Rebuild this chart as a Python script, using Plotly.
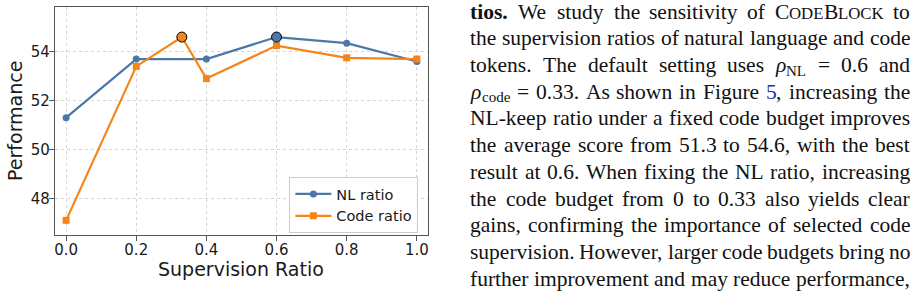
import plotly.graph_objects as go

# ---------------- data ----------------
x_nl = [0.0, 0.2, 0.4, 0.6, 0.8, 1.0]
y_nl = [51.3, 53.7, 53.7, 54.6, 54.35, 53.6]
x_code = [0.0, 0.2, 0.33, 0.4, 0.6, 0.8, 1.0]
y_code = [47.1, 53.4, 54.6, 52.9, 54.25, 53.75, 53.7]
best_nl_x, best_nl_y = [0.6], [54.6]
best_code_x, best_code_y = [0.33], [54.6]
x_tickvals = [0.0, 0.2, 0.4, 0.6, 0.8, 1.0]
x_ticktext = ["0.0", "0.2", "0.4", "0.6", "0.8", "1.0"]
y_tickvals = [48, 50, 52, 54]
y_ticktext = ["48", "50", "52", "54"]
series_names = ["NL ratio", "Code ratio"]
x_title = "Supervision Ratio"
y_title = "Performance"

# paragraph text (tokens; a token may be a list of (style, text) pieces)
para_lines = [
    [[("b", "tios.")], "We", "study", "the", "sensitivity", "of",
     [("r", "C"), ("sc", "ODE"), ("r", "B"), ("sc", "LOCK")], "to"],
    ["the", "supervision", "ratios", "of", "natural", "language", "and", "code"],
    ["tokens.", "The", "default", "setting", "uses", [("mi", "ρ"), ("sub", "NL")],
     "=", "0.6", "and"],
    [[("mi", "ρ"), ("sub", "code")], "=", "0.33.", "As", "shown", "in", "Figure",
     [("link", "5"), ("r", ",")], "increasing", "the"],
    ["NL-keep", "ratio", "under", "a", "fixed", "code", "budget", "improves"],
    ["the", "average", "score", "from", "51.3", "to", "54.6,", "with", "the", "best"],
    ["result", "at", "0.6.", "When", "fixing", "the", "NL", "ratio,", "increasing"],
    ["the", "code", "budget", "from", "0", "to", "0.33", "also", "yields", "clear"],
    ["gains,", "confirming", "the", "importance", "of", "selected", "code"],
    ["supervision.", "However,", "larger", "code", "budgets", "bring", "no"],
    ["further", "improvement", "and", "may", "reduce", "performance,"],
]

# ---------------- style ----------------
W, H = 915, 308
BLUE = "#4c78a8"
ORANGE = "#f58518"
SPINE = "#555555"
GRID = "#d4d4d4"

PLOT_L, PLOT_R, PLOT_T, PLOT_B = 54, 428, 7, 235

fig = go.Figure()
fig.add_trace(go.Scatter(x=x_nl, y=y_nl, mode="lines+markers", name=series_names[0],
                         line=dict(color=BLUE, width=2.2),
                         marker=dict(symbol="circle", size=7, color=BLUE)))
fig.add_trace(go.Scatter(x=x_code, y=y_code, mode="lines+markers", name=series_names[1],
                         line=dict(color=ORANGE, width=2.2),
                         marker=dict(symbol="square", size=7, color=ORANGE)))
fig.add_trace(go.Scatter(x=best_nl_x, y=best_nl_y, mode="markers", showlegend=False,
                         marker=dict(symbol="circle", size=10, color=BLUE,
                                     line=dict(color="black", width=1))))
fig.add_trace(go.Scatter(x=best_code_x, y=best_code_y, mode="markers", showlegend=False,
                         marker=dict(symbol="circle", size=10, color=ORANGE,
                                     line=dict(color="black", width=1))))

axis_common = dict(showline=True, linecolor=SPINE, linewidth=1.25, mirror=True,
                   ticks="outside", ticklen=5, tickwidth=1, tickcolor=SPINE,
                   showgrid=True, gridcolor=GRID, gridwidth=0.8, griddash="dot",
                   zeroline=False, tickfont=dict(family="DejaVu Sans", size=15, color="#1a1a1a"))

fig.update_layout(
    width=W, height=H, margin=dict(l=0, r=0, t=0, b=0),
    paper_bgcolor="white", plot_bgcolor="white",
    font=dict(family="DejaVu Sans", color="#1a1a1a"),
    xaxis=dict(domain=[PLOT_L / W, PLOT_R / W], range=[-0.032, 1.032],
               tickvals=x_tickvals, ticktext=x_ticktext, ticklabelstandoff=-4,
               **axis_common),
    yaxis=dict(domain=[1 - PLOT_B / H, 1 - PLOT_T / H], range=[46.5, 55.83],
               tickvals=y_tickvals, ticktext=y_ticktext, ticklabelstandoff=-4,
               **axis_common),
    legend=dict(x=289 / W, y=1 - 177 / H, xanchor="left", yanchor="top",
                bgcolor="rgba(255,255,255,0.85)", bordercolor="#cccccc", borderwidth=1,
                font=dict(family="DejaVu Sans", size=14.5, color="#1a1a1a"),
                itemwidth=36, tracegroupgap=0),
    showlegend=True,
)

annotations = []
annotations.append(dict(text=x_title, x=((PLOT_L + PLOT_R) / 2) / W, y=1 - 269 / H,
                        xref="paper", yref="paper", showarrow=False,
                        xanchor="center", yanchor="middle",
                        font=dict(family="DejaVu Sans", size=19, color="#1a1a1a")))
annotations.append(dict(text=y_title, x=14 / W, y=1 - ((PLOT_T + PLOT_B) / 2) / H,
                        xref="paper", yref="paper", showarrow=False, textangle=-90,
                        xanchor="center", yanchor="middle",
                        font=dict(family="DejaVu Sans", size=19, color="#1a1a1a")))

# ---------------- justified paragraph ----------------
REG = {' ': 250, '!': 333, ',': 250, '-': 333, '.': 250, '=': 564,
       'A': 722, 'B': 667, 'C': 667, 'D': 722, 'E': 611, 'F': 556, 'G': 722, 'H': 722,
       'I': 333, 'K': 722, 'L': 611, 'M': 889, 'N': 722, 'O': 722, 'P': 556, 'R': 667,
       'S': 556, 'T': 611, 'W': 944,
       'a': 444, 'b': 500, 'c': 444, 'd': 500, 'e': 444, 'f': 333, 'g': 500, 'h': 500,
       'i': 278, 'j': 278, 'k': 500, 'l': 278, 'm': 778, 'n': 500, 'o': 500, 'p': 500,
       'q': 500, 'r': 333, 's': 389, 't': 278, 'u': 500, 'v': 500, 'w': 722, 'x': 500,
       'y': 500, 'z': 444}
for d in "0123456789":
    REG[d] = 500
BOLD = {'t': 333, 'i': 278, 'o': 500, 's': 389, '.': 250}

FS = 21.5
SC = 0.78
SUBF = 0.7
TXT_L, TXT_R = 470.5, 911
LINE0, LSTEP = 14.0, 26.7
SERIF = "Liberation Serif"


def piece_width(style, text):
    if style == "b":
        return sum(BOLD.get(c, REG.get(c, 500) * 1.05) for c in text) * FS / 1000
    if style == "sc":
        return sum(REG.get(c, 500) for c in text) * FS * SC / 1000
    if style == "sub":
        return sum(REG.get(c, 500) for c in text) * FS * SUBF / 1000
    if style == "mi":
        return 0.52 * FS * len(text)
    return sum(REG.get(c, 500) for c in text) * FS / 1000


def norm(tok):
    return tok if isinstance(tok, list) else [("r", tok)]


for li, line in enumerate(para_lines):
    toks = [norm(t) for t in line]
    widths = [sum(piece_width(s, t) for s, t in tok) for tok in toks]
    gap = (TXT_R - TXT_L - sum(widths)) / (len(toks) - 1)
    yc = LINE0 + LSTEP * li - 2.3
    x = TXT_L
    for tok, w in zip(toks, widths):
        px = x
        for style, text in tok:
            size = FS
            yshift = 0
            color = "#111111"
            shown = text
            if style == "b":
                shown = "<b>" + text + "</b>"
            elif style == "sc":
                size = FS * SC
                yshift = -0.34 * (FS - size)
            elif style == "sub":
                size = FS * SUBF
                yshift = -(0.34 * (FS - size) + 0.15 * FS)
            elif style == "mi":
                shown = "<i>" + text + "</i>"
            elif style == "link":
                color = "#2b2bb0"
            annotations.append(dict(
                text=shown, x=(px - 2) / W, y=1 - yc / H, xref="paper", yref="paper",
                showarrow=False, xanchor="left", yanchor="middle", yshift=yshift,
                font=dict(family=SERIF, size=size, color=color)))
            px += piece_width(style, text)
        x += w + gap

fig.update_layout(annotations=annotations)
fig.write_html("out.html")
